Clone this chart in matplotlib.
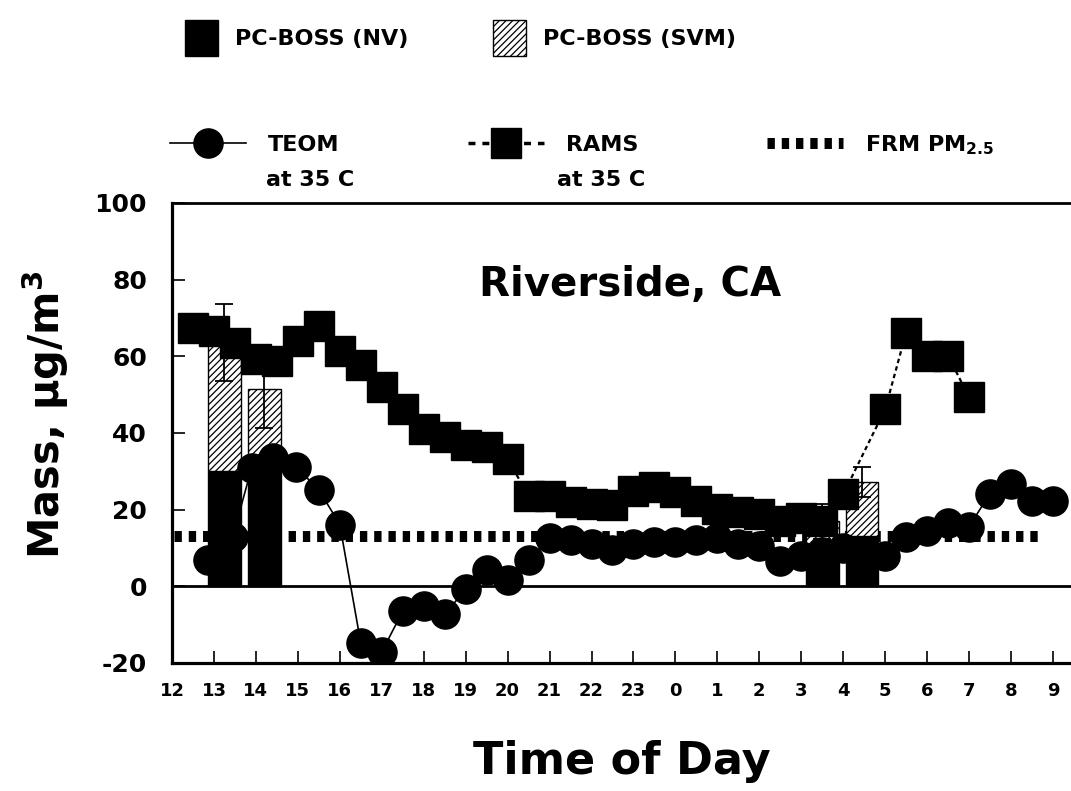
import matplotlib
matplotlib.use('Agg')
import matplotlib.pyplot as plt
from matplotlib.patches import Patch
from matplotlib.lines import Line2D

plt.rcParams['font.family'] = ['DejaVu Sans']
plt.rcParams['font.weight'] = 'bold'
plt.rcParams['mathtext.default'] = 'bf'
plt.rcParams['hatch.linewidth'] = 0.9
plt.rcParams['axes.unicode_minus'] = False

# ---------------- data (hours after 12:00) ----------------
hour_ticks = list(range(22))
hour_labels = ['12', '13', '14', '15', '16', '17', '18', '19', '20', '21', '22', '23',
               '0', '1', '2', '3', '4', '5', '6', '7', '8', '9']

rams_x = [0.5, 1.0, 1.5, 2.0, 2.5, 3.0, 3.5, 4.0, 4.5, 5.0, 5.5, 6.0, 6.5, 7.0, 7.5,
          8.0, 8.5, 9.0, 9.5, 10.0, 10.5, 11.0, 11.5, 12.0, 12.5, 13.0, 13.5, 14.0,
          14.5, 15.0, 15.5, 16.0, 17.0, 17.5, 18.0, 18.5, 19.0]
rams_y = [67.5, 66.5, 63.4, 59.2, 58.7, 63.9, 68.0, 61.3, 57.7, 51.9, 46.2, 41.0, 39.0,
          36.9, 36.4, 33.2, 23.6, 23.5, 22.0, 21.5, 21.3, 25.0, 26.0, 24.5, 22.3, 20.2,
          19.5, 19.0, 17.1, 17.7, 17.1, 24.0, 46.2, 66.2, 60.2, 60.2, 49.3]

teom_x = [0.85, 1.45, 1.9, 2.4, 2.95, 3.5, 4.0, 4.5, 5.0, 5.5, 6.0, 6.5, 7.0, 7.5, 8.0,
          8.5, 9.0, 9.5, 10.0, 10.5, 11.0, 11.5, 12.0, 12.5, 13.0, 13.5, 14.0, 14.5,
          15.0, 15.5, 16.0, 16.5, 17.0, 17.5, 18.0, 18.5, 19.0, 19.5, 20.0, 20.5, 21.0]
teom_y = [6.8, 13.0, 31.0, 33.5, 31.2, 25.2, 16.1, -14.8, -17.1, -6.5, -5.2, -7.3, -0.8,
          4.2, 1.6, 6.8, 12.5, 12.0, 11.0, 9.4, 11.0, 11.5, 11.5, 12.0, 12.5, 11.0, 10.5,
          6.5, 8.0, 9.0, 10.0, 9.0, 7.8, 13.0, 14.5, 16.4, 15.6, 24.2, 26.8, 22.3, 22.3]

bar_x = [1.25, 2.2, 15.5, 16.45]
boss_nv = [30.0, 33.0, 9.0, 13.2]
boss_svm = [33.6, 18.4, 8.0, 14.0]
boss_err = [10.0, 10.0, 4.6, 4.0]

frm_x = [0.05, 20.75]
frm_y = [13.2, 13.2]

# ---------------- figure ----------------
W, H = 1071, 791
fig = plt.figure(figsize=(W / 100, H / 100), dpi=100)
ax = fig.add_axes([172 / W, 1 - 663 / H, (1071 - 172) / W, (663 - 203) / H])
ax.set_xlim(0, 21.43)
ax.set_ylim(-20, 100)

ax.axhline(0, color='black', lw=2.0, zorder=1)
ax.plot(frm_x, frm_y, color='black', lw=7.9, ls=(0, (0.67, 0.63)),
        solid_capstyle='butt', zorder=1.5)

totals = [a + b for a, b in zip(boss_nv, boss_svm)]
ax.bar(bar_x, boss_nv, width=0.78, color='black', edgecolor='black', lw=1, zorder=2)
ax.bar(bar_x, boss_svm, width=0.78, bottom=boss_nv, color='white', edgecolor='black',
       hatch='/////', lw=1, zorder=2)
ax.errorbar(bar_x, totals, yerr=boss_err, fmt='none', ecolor='black', elinewidth=1.3,
            capsize=6.5, capthick=1.3, zorder=2.5)

ax.plot(rams_x, rams_y, color='black', lw=1.6, ls=(0, (2, 1.5)), marker='s', ms=21,
        mfc='black', mec='black', zorder=3)
ax.plot(teom_x, teom_y, color='black', lw=1.2, ls='-', marker='o', ms=21,
        mfc='black', mec='black', zorder=4)

ax.text(10.93, 78.6, 'Riverside, CA', ha='center', va='center', fontsize=29,
        fontweight='bold', zorder=5)

ax.set_xticks(hour_ticks)
ax.set_xticklabels(hour_labels)
ax.set_yticks([-20, 0, 20, 40, 60, 80, 100])
ax.tick_params(axis='x', direction='in', length=9, width=1.2, pad=14, labelsize=13)
ax.tick_params(axis='y', direction='in', length=9, width=1.2, pad=18, labelsize=18)
for lab in ax.get_xticklabels() + ax.get_yticklabels():
    lab.set_fontweight('bold')

for s in ['left', 'bottom']:
    ax.spines[s].set_linewidth(2.3)
ax.spines['top'].set_linewidth(2.0)
ax.spines['right'].set_visible(False)

ax.set_xlabel('Time of Day', fontsize=32, fontweight='bold')
ax.xaxis.set_label_coords(0.5, -0.167)
ax.set_ylabel('Mass, µg/m$^\\mathbf{3}$', fontsize=30, fontweight='bold')
ax.yaxis.set_label_coords(-0.112, 0.539)

# ---------------- legends ----------------
h_nv = Patch(facecolor='black', edgecolor='black')
h_svm = Patch(facecolor='white', edgecolor='black', hatch='/////', lw=1)
fig.legend([h_nv, h_svm], ['PC-BOSS (NV)', 'PC-BOSS (SVM)'], loc='center left',
           bbox_to_anchor=(185 / W, 1 - 38 / H), ncol=2, frameon=False, fontsize=16,
           handlelength=1.5, handleheight=2.1, handletextpad=0.75, columnspacing=3.8,
           borderpad=0, borderaxespad=0)

h_teom = Line2D([], [], color='black', lw=1.2, marker='o', ms=21)
h_rams = Line2D([], [], color='black', lw=2.5, ls=(0, (2, 2)), marker='s', ms=21)
h_frm = Line2D([], [], color='black', lw=7.9, ls=(0, (0.67, 0.63)))
fig.legend([h_teom, h_rams, h_frm], ['TEOM', 'RAMS', 'FRM PM$_{2.5}$'],
           loc='center left', bbox_to_anchor=(170 / W, 1 - 145 / H), ncol=3,
           frameon=False, fontsize=16, handlelength=3.4, handletextpad=1.0,
           columnspacing=5.8, borderpad=0, borderaxespad=0)
fig.text(266 / W, 1 - 180 / H, 'at 35 C', fontsize=16, fontweight='bold', va='center')
fig.text(557 / W, 1 - 180 / H, 'at 35 C', fontsize=16, fontweight='bold', va='center')

fig.savefig('out.png', dpi=100)
